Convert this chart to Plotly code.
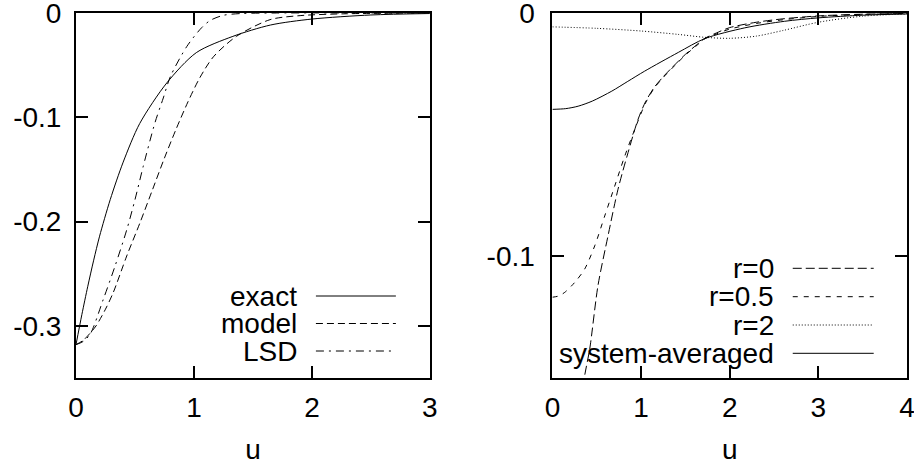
import plotly.graph_objects as go
from plotly.subplots import make_subplots

# ---------------- data ----------------
# Left panel
exact_u = [0, 0.05, 0.1, 0.15, 0.2, 0.29, 0.4, 0.54, 0.77, 1.02, 1.33, 1.65, 2.0, 2.5, 3.0]
exact_v = [-0.318, -0.289, -0.262, -0.237, -0.214, -0.179, -0.143, -0.106, -0.067, -0.038,
           -0.0224, -0.0115, -0.0058, -0.0019, -0.0005]

model_u = [0, 0.06, 0.12, 0.17, 0.25, 0.316, 0.43, 0.543, 0.65, 0.75, 0.85, 0.95, 1.05,
           1.165, 1.36, 1.645, 1.9, 2.3, 3.0]
model_v = [-0.318, -0.314, -0.307, -0.300, -0.284, -0.268, -0.233, -0.201, -0.169, -0.139,
           -0.111, -0.085, -0.062, -0.042, -0.0224, -0.0064, -0.0025, -0.0007, 0.0]

lsd_u = [0, 0.06, 0.12, 0.23, 0.33, 0.43, 0.5, 0.57, 0.67, 0.74, 0.80, 0.94, 1.066, 1.14,
         1.25, 1.4, 1.7, 3.0]
lsd_v = [-0.318, -0.315, -0.308, -0.275, -0.243, -0.208, -0.179, -0.147, -0.105, -0.0815,
         -0.061, -0.032, -0.014, -0.007, -0.0022, -0.0005, 0.0, 0.0]

# Right panel
r0_u = [0.25, 0.364, 0.421, 0.514, 0.627, 0.740, 0.853, 0.966, 1.05, 1.15, 1.25, 1.35, 1.5,
        1.62, 1.72, 1.85, 2.0, 2.3, 2.6, 3.0, 3.5, 4.0]
r0_v = [-0.175, -0.1489, -0.138, -0.112, -0.0916, -0.0724, -0.0574, -0.0437, -0.0365,
        -0.0305, -0.0262, -0.0224, -0.0170, -0.0133, -0.0104, -0.0082, -0.0060, -0.0038,
        -0.0024, -0.0012, -0.0005, -0.0002]

r05_u = [0, 0.07, 0.139, 0.252, 0.364, 0.477, 0.59, 0.703, 0.816, 0.929, 1.05, 1.15, 1.25,
         1.35, 1.5, 1.62, 1.72, 1.85, 2.0, 2.3, 2.6, 3.0, 3.5, 4.0]
r05_v = [-0.1168, -0.1163, -0.1148, -0.1107, -0.1052, -0.0957, -0.0834, -0.0711, -0.0588,
         -0.0478, -0.0370, -0.0308, -0.0265, -0.0227, -0.0173, -0.0136, -0.0106, -0.0086,
         -0.0066, -0.0043, -0.0028, -0.0014, -0.0006, -0.0002]

r2_u = [0, 0.5, 1.0, 1.42, 1.72, 2.0, 2.3, 2.6, 3.0, 3.5, 4.0]
r2_v = [-0.0057, -0.0063, -0.0074, -0.0088, -0.0100, -0.0104, -0.0095, -0.0072, -0.0038,
        -0.0013, -0.0004]

sys_u = [0, 0.15, 0.29, 0.45, 0.67, 0.85, 1.04, 1.42, 1.72, 2.17, 2.62, 3.0, 3.5, 4.0]
sys_v = [-0.0396, -0.0393, -0.0383, -0.0362, -0.0321, -0.0281, -0.0239, -0.0162, -0.0105,
         -0.0061, -0.0034, -0.0020, -0.0009, -0.0004]

left_yticks = [0, -0.1, -0.2, -0.3]
left_yticktext = ["0", "-0.1", "-0.2", "-0.3"]
right_yticks = [0, -0.1]
right_yticktext = ["0", "-0.1"]
left_xticks = [0, 1, 2, 3]
right_xticks = [0, 1, 2, 3, 4]

left_names = ["exact", "model", "LSD"]
right_names = ["r=0", "r=0.5", "r=2", "system-averaged"]

# ---------------- styles ----------------
FONT = "Liberation Sans, Arial, Helvetica, sans-serif"
FS = 28
SOLID = "solid"
DASH_MODEL = "7px,4px"
DASH_LSD = "8px,5px,2px,5px"
DASH_R0 = "9px,4px"
DASH_R05 = "5px,6px"
DASH_R2 = "1px,2px"

fig = make_subplots(rows=1, cols=2, horizontal_spacing=0.1475)

def line(u, v, dash, col):
    fig.add_trace(go.Scatter(x=u, y=v, mode="lines", showlegend=False, hoverinfo="skip",
                             line=dict(color="black", width=1, dash=dash,
                                       shape="spline", smoothing=0.8)),
                  row=1, col=col)

line(exact_u, exact_v, SOLID, 1)
line(model_u, model_v, DASH_MODEL, 1)
line(lsd_u, lsd_v, DASH_LSD, 1)
line(r0_u, r0_v, DASH_R0, 2)
line(r05_u, r05_v, DASH_R05, 2)
line(r2_u, r2_v, DASH_R2, 2)
line(sys_u, sys_v, SOLID, 2)

axis_common = dict(showline=True, linecolor="black", linewidth=2, mirror="ticks",
                   ticks="inside", ticklen=12, tickwidth=2, tickcolor="black",
                   showgrid=False, zeroline=False, ticklabeloverflow="allow",
                   automargin=False,
                   tickfont=dict(family=FONT, size=FS, color="black"))

title_font = dict(family=FONT, size=FS, color="black")
fig.update_xaxes(range=[0, 3], tickvals=left_xticks, ticktext=[str(t) for t in left_xticks],
                 title=dict(text="u", font=title_font, standoff=18),
                 ticklabelstandoff=3, row=1, col=1, **axis_common)
fig.update_xaxes(range=[0, 4], tickvals=right_xticks, ticktext=[str(t) for t in right_xticks],
                 title=dict(text="u", font=title_font, standoff=18),
                 ticklabelstandoff=3, row=1, col=2, **axis_common)
fig.update_yaxes(range=[-0.35, 0], tickvals=left_yticks, ticktext=left_yticktext,
                 ticklabelstandoff=7, row=1, col=1, **axis_common)
fig.update_yaxes(range=[-0.15, 0], tickvals=right_yticks, ticktext=right_yticktext,
                 ticklabelstandoff=10, row=1, col=2, **axis_common)

# the page body margin is removed (post_script), so figure pixels = window pixels
W, H = 914, 466
L, T = 76, 13
R = W - 907.3
B = H - 378
pw = W - L - R
ph = H - T - B
def px(xs):   # window x -> paper
    return (xs - L) / pw
def py(ys):   # window y -> paper
    return (H - B - ys) / ph

fig.update_layout(xaxis=dict(domain=[0, px(430)]), xaxis2=dict(domain=[px(552.6), 1]))

# ---------------- legends (text right-aligned, sample line to the right) ----------------
shapes = []
annotations = []
left_rows = [296, 323.5, 351]
left_dashes = [SOLID, DASH_MODEL, DASH_LSD]
for name, yrow, d in zip(left_names, left_rows, left_dashes):
    annotations.append(dict(x=px(299), y=py(yrow), xref="paper", yref="paper", text=name,
                            showarrow=False, xanchor="right", yanchor="middle",
                            font=dict(family=FONT, size=FS, color="black")))
    shapes.append(dict(type="line", xref="paper", yref="paper", x0=px(316), x1=px(396),
                       y0=py(yrow), y1=py(yrow), line=dict(color="black", width=1, dash=d)))

right_rows = [268.3, 296.7, 325, 353.3]
right_dashes = [DASH_R0, DASH_R05, DASH_R2, SOLID]
for name, yrow, d in zip(right_names, right_rows, right_dashes):
    annotations.append(dict(x=px(776), y=py(yrow), xref="paper", yref="paper", text=name,
                            showarrow=False, xanchor="right", yanchor="middle",
                            font=dict(family=FONT, size=FS, color="black")))
    shapes.append(dict(type="line", xref="paper", yref="paper", x0=px(793), x1=px(874),
                       y0=py(yrow), y1=py(yrow), line=dict(color="black", width=1, dash=d)))

fig.update_layout(width=W, height=H, margin=dict(l=L, r=R, t=T, b=B, pad=0, autoexpand=False),
                  paper_bgcolor="white", plot_bgcolor="white",
                  font=dict(family=FONT, size=FS, color="black"),
                  shapes=shapes, annotations=annotations, showlegend=False)

fig.write_html("out.html", config={"displayModeBar": False},
               post_script="document.body.style.margin='0';document.body.style.overflow='hidden';")
